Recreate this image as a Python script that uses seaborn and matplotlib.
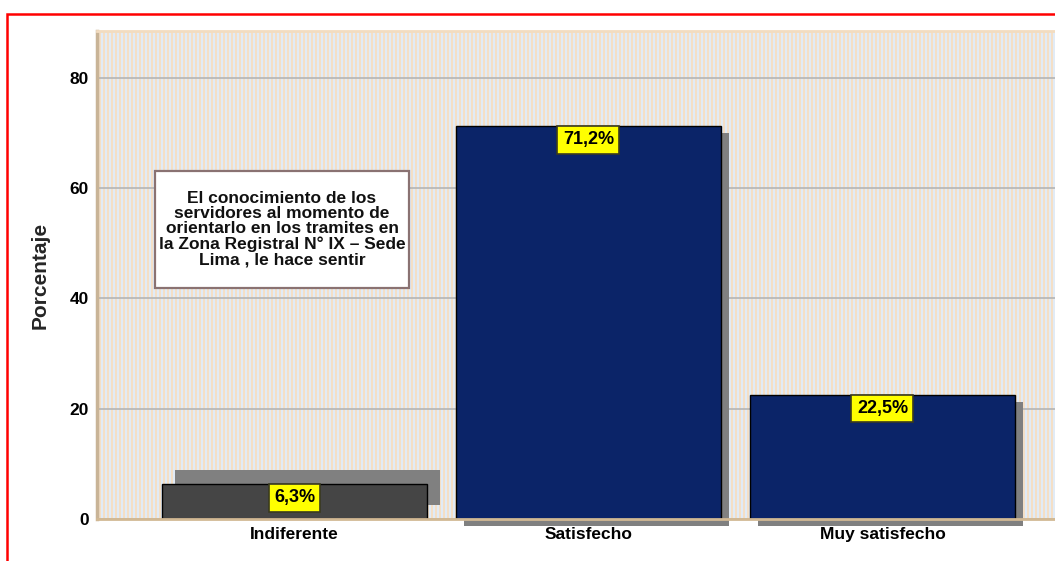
import numpy as np
import pandas as pd
import seaborn as sns
import matplotlib.pyplot as plt
from matplotlib.patches import Rectangle
from matplotlib.transforms import ScaledTranslation

categories = ["Indiferente", "Satisfecho", "Muy satisfecho"]
values = [6.3, 71.2, 22.5]
value_labels = ["6,3%", "71,2%", "22,5%"]
bar_colors = ["#454545", "#0b2468", "#0b2468"]
y_ticks = [0, 20, 40, 60, 80]
box_text = ("El conocimiento de los\nservidores al momento de\norientarlo en los tramites en\n"
            "la Zona Registral N° IX – Sede\nLima , le hace sentir")

sns.set_theme(style="white")
plt.rcParams["font.family"] = ["Liberation Sans", "DejaVu Sans"]

fig = plt.figure(figsize=(10.55, 5.61), dpi=100)
ax = fig.add_axes([97 / 1055, 42 / 561, 1 - 97 / 1055, (519 - 31) / 561])
ax.set_facecolor("none")

# striped plot background (alternating light blue / beige columns)
ncols = 958
cols = np.array([[0.886, 0.922, 0.965], [0.957, 0.878, 0.780]])
stripe = cols[(np.arange(ncols) // 2) % 2][None, :, :]
ax.imshow(stripe, extent=[0, 1, 0, 1], transform=ax.transAxes, aspect="auto",
          interpolation="nearest", zorder=0)

df = pd.DataFrame({"cat": categories, "val": values})
sns.barplot(data=df, x="cat", y="val", hue="cat", palette=bar_colors, legend=False,
            width=0.9, edgecolor="black", linewidth=1.0, saturation=1, ax=ax, zorder=3)

ax.set_xlim(-0.6718, 2.587)
ax.set_ylim(0, 88.5)

# drop shadows behind bars (offsets in pixels)
shadow_offsets = [(13, 14), (8, -7), (8, -7)]
for patch, (dx, dy) in zip(ax.patches, shadow_offsets):
    tr = ax.transData + ScaledTranslation(dx / 100, dy / 100, fig.dpi_scale_trans)
    sh = Rectangle((patch.get_x(), patch.get_y()), patch.get_width(), patch.get_height(),
                   transform=tr, facecolor="#808080", edgecolor="none", zorder=2,
                   clip_on=False)
    ax.add_patch(sh)

# value labels in yellow boxes at the top of each bar
for patch, lab in zip(ax.patches[:3], value_labels):
    cx = patch.get_x() + patch.get_width() / 2
    top = patch.get_height()
    ax.annotate(lab, xy=(cx, top), xytext=(0, -13.5), textcoords="offset pixels",
                ha="center", va="center", fontsize=13, fontweight="bold", color="black",
                zorder=6,
                bbox=dict(boxstyle="square,pad=0.3", facecolor="#ffff00",
                          edgecolor="#3a3a20", linewidth=1.2))

ax.set_yticks(y_ticks)
ax.set_yticklabels([str(t) for t in y_ticks], fontsize=12.5, fontweight="bold")
for lbl in ax.get_xticklabels():
    lbl.set_fontsize(12.5)
    lbl.set_fontweight("bold")
ax.tick_params(axis="both", length=0, colors="black")
ax.tick_params(axis="y", pad=6)
ax.tick_params(axis="x", pad=6)
ax.set_xlabel("")
ax.set_ylabel("Porcentaje", fontsize=15, fontweight="bold", labelpad=14)

ax.yaxis.grid(True, color="#b4b4b4", linewidth=1.2, zorder=1)
ax.set_axisbelow(True)
for g in ax.get_ygridlines():
    g.set_zorder(1)

ax.spines["left"].set_color("#c9b497")
ax.spines["left"].set_linewidth(2.5)
ax.spines["bottom"].set_color("#d2b994")
ax.spines["bottom"].set_linewidth(2)
ax.spines["top"].set_color("#f2dcc0")
ax.spines["top"].set_linewidth(2)
ax.spines["right"].set_visible(False)
for s in ax.spines.values():
    s.set_zorder(5)

# description box
bx0, by0, bx1, by1 = 155, 171, 409, 288
fig.add_artist(Rectangle((bx0 / 1055, 1 - by1 / 561), (bx1 - bx0) / 1055, (by1 - by0) / 561,
                         transform=fig.transFigure, facecolor="white",
                         edgecolor="#8a7272", linewidth=1.6, zorder=10))
fig.text((bx0 + bx1) / 2 / 1055, 1 - 229 / 561, box_text, ha="center", va="center",
         fontsize=12.5, fontweight="bold", linespacing=1.02, zorder=11, color="#111111")

# red frame around the chart
fig.add_artist(Rectangle((7 / 1055, -0.1), 1.2, 1 - 14 / 561 + 0.1,
                         transform=fig.transFigure, facecolor="none",
                         edgecolor="#ff0000", linewidth=1.8, zorder=20))

fig.savefig("out.png", dpi=100)
